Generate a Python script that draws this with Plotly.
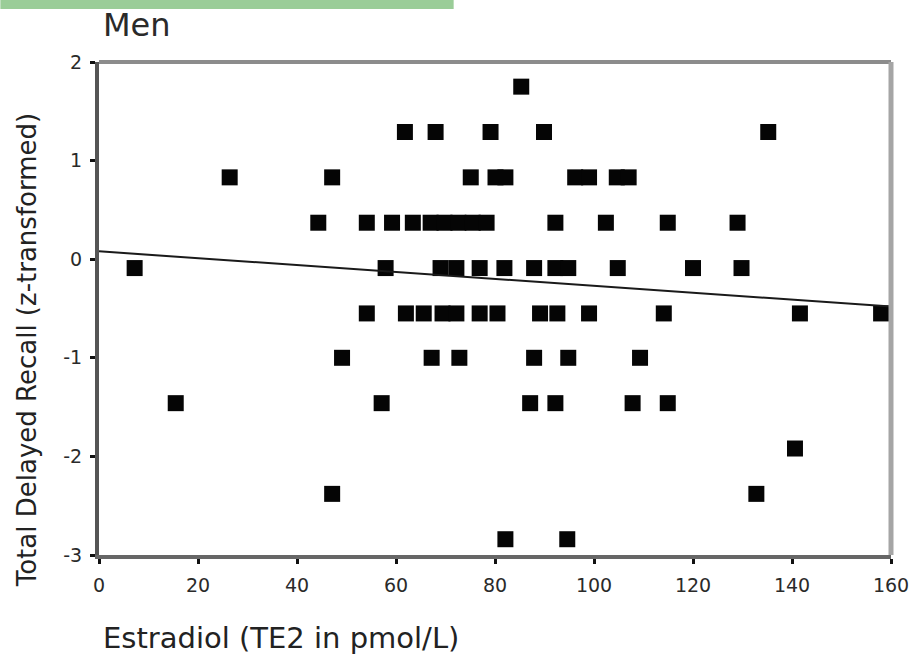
import plotly.graph_objects as go

# ---------------- data ----------------
estradiol = [
    85.3,
    61.8, 68.0, 79.1, 89.9, 135.2,
    26.4, 47.1, 75.1, 80.1, 82.1, 96.2, 99.0, 104.6, 107.0,
    44.3, 54.1, 59.2, 63.4, 67.0, 69.8, 72.6, 75.5, 78.3, 92.2, 102.4, 114.9, 129.0,
    7.2, 57.9, 69.0, 72.2, 76.9, 81.9, 87.9, 92.2, 94.8, 104.8, 120.0, 129.8,
    54.1, 62.0, 65.6, 69.4, 72.2, 76.9, 80.5, 89.1, 92.6, 99.0, 114.1, 141.6, 158.0,
    49.1, 67.2, 72.8, 87.9, 94.8, 109.3,
    15.5, 57.1, 87.1, 92.2, 107.8, 114.9,
    140.6,
    47.1, 132.8,
    82.1, 94.6,
]
recall_z = (
    [1.75] * 1
    + [1.29] * 5
    + [0.83] * 9
    + [0.37] * 13
    + [-0.09] * 12
    + [-0.55] * 13
    + [-1.00] * 6
    + [-1.46] * 6
    + [-1.92] * 1
    + [-2.38] * 2
    + [-2.84] * 2
)

fit_intercept = 0.08
fit_slope = -0.0035
fit_x = [0, 160]

x_tickvals = [0, 20, 40, 60, 80, 100, 120, 140, 160]
x_ticktext = ["0", "20", "40", "60", "80", "100", "120", "140", "160"]
y_tickvals = [2, 1, 0, -1, -2, -3]
y_ticktext = ["2", "1", "0", "-1", "-2", "-3"]

title_text = "Men"
x_title = "Estradiol (TE2 in pmol/L)"
y_title = "Total Delayed Recall (z-transformed)"

# ---------------- layout geometry (pixels) ----------------
W, H = 921, 658
L, R, T, B = 99, 27, 62, 103
pw, ph = W - L - R, H - T - B


def px_x(p):
    return (p - L) / pw


def px_y(p):
    return (H - B - p) / ph


FONT = "DejaVu Sans, Arial, sans-serif"

fig = go.Figure()

fig.add_trace(go.Scatter(
    x=estradiol, y=recall_z, mode="markers",
    marker=dict(symbol="square", size=16, color="#050505",
                line=dict(width=0)),
    showlegend=False, hoverinfo="x+y",
))

fig.add_trace(go.Scatter(
    x=fit_x, y=[fit_intercept + fit_slope * v for v in fit_x],
    mode="lines", line=dict(color="#1a1a1a", width=2),
    showlegend=False, hoverinfo="skip",
))

fig.update_layout(
    width=W, height=H,
    margin=dict(l=L, r=R, t=T, b=B),
    paper_bgcolor="white", plot_bgcolor="white",
    font=dict(family=FONT, color="#333333"),
    xaxis=dict(
        range=[0, 160], tickvals=x_tickvals, ticktext=x_ticktext,
        showgrid=False, zeroline=False,
        showline=True, linecolor="#666666", linewidth=4,
        ticks="outside", ticklen=5, tickwidth=3, tickcolor="#111111",
        tickfont=dict(size=19, color="#2a2a2a", family=FONT),
        ticklabelstandoff=5,
    ),
    yaxis=dict(
        range=[-3, 2], tickvals=y_tickvals, ticktext=y_ticktext,
        showgrid=False, zeroline=False,
        showline=True, linecolor="#555555", linewidth=4,
        ticks="outside", ticklen=5, tickwidth=3, tickcolor="#111111",
        tickfont=dict(size=19, color="#2a2a2a", family=FONT),
        ticklabelstandoff=4,
    ),
    shapes=[
        # green band at top
        dict(type="rect", xref="paper", yref="paper",
             x0=px_x(0), x1=px_x(455), y0=px_y(9), y1=px_y(0),
             fillcolor="#9acd98", line=dict(width=0), layer="above"),
        # top frame
        dict(type="line", xref="paper", yref="paper",
             x0=0, x1=1, y0=1, y1=1,
             line=dict(color="#8c8c8c", width=4)),
        # right frame
        dict(type="line", xref="paper", yref="paper",
             x0=1, x1=1, y0=0, y1=1,
             line=dict(color="#a5a5a5", width=5)),
    ],
    annotations=[
        dict(text=title_text, xref="paper", yref="paper",
             x=px_x(101), y=px_y(25), xanchor="left", yanchor="middle",
             showarrow=False,
             font=dict(size=32, color="#2a2a2a", family=FONT)),
        dict(text=x_title, xref="paper", yref="paper",
             x=px_x(101), y=px_y(638), xanchor="left", yanchor="middle",
             showarrow=False,
             font=dict(size=29, color="#222222", family=FONT)),
        dict(text=y_title, xref="paper", yref="paper",
             x=px_x(27), y=px_y(350), xanchor="center", yanchor="middle",
             textangle=-90, showarrow=False,
             font=dict(size=26, color="#222222", family=FONT)),
    ],
)

fig.write_html("out.html")
